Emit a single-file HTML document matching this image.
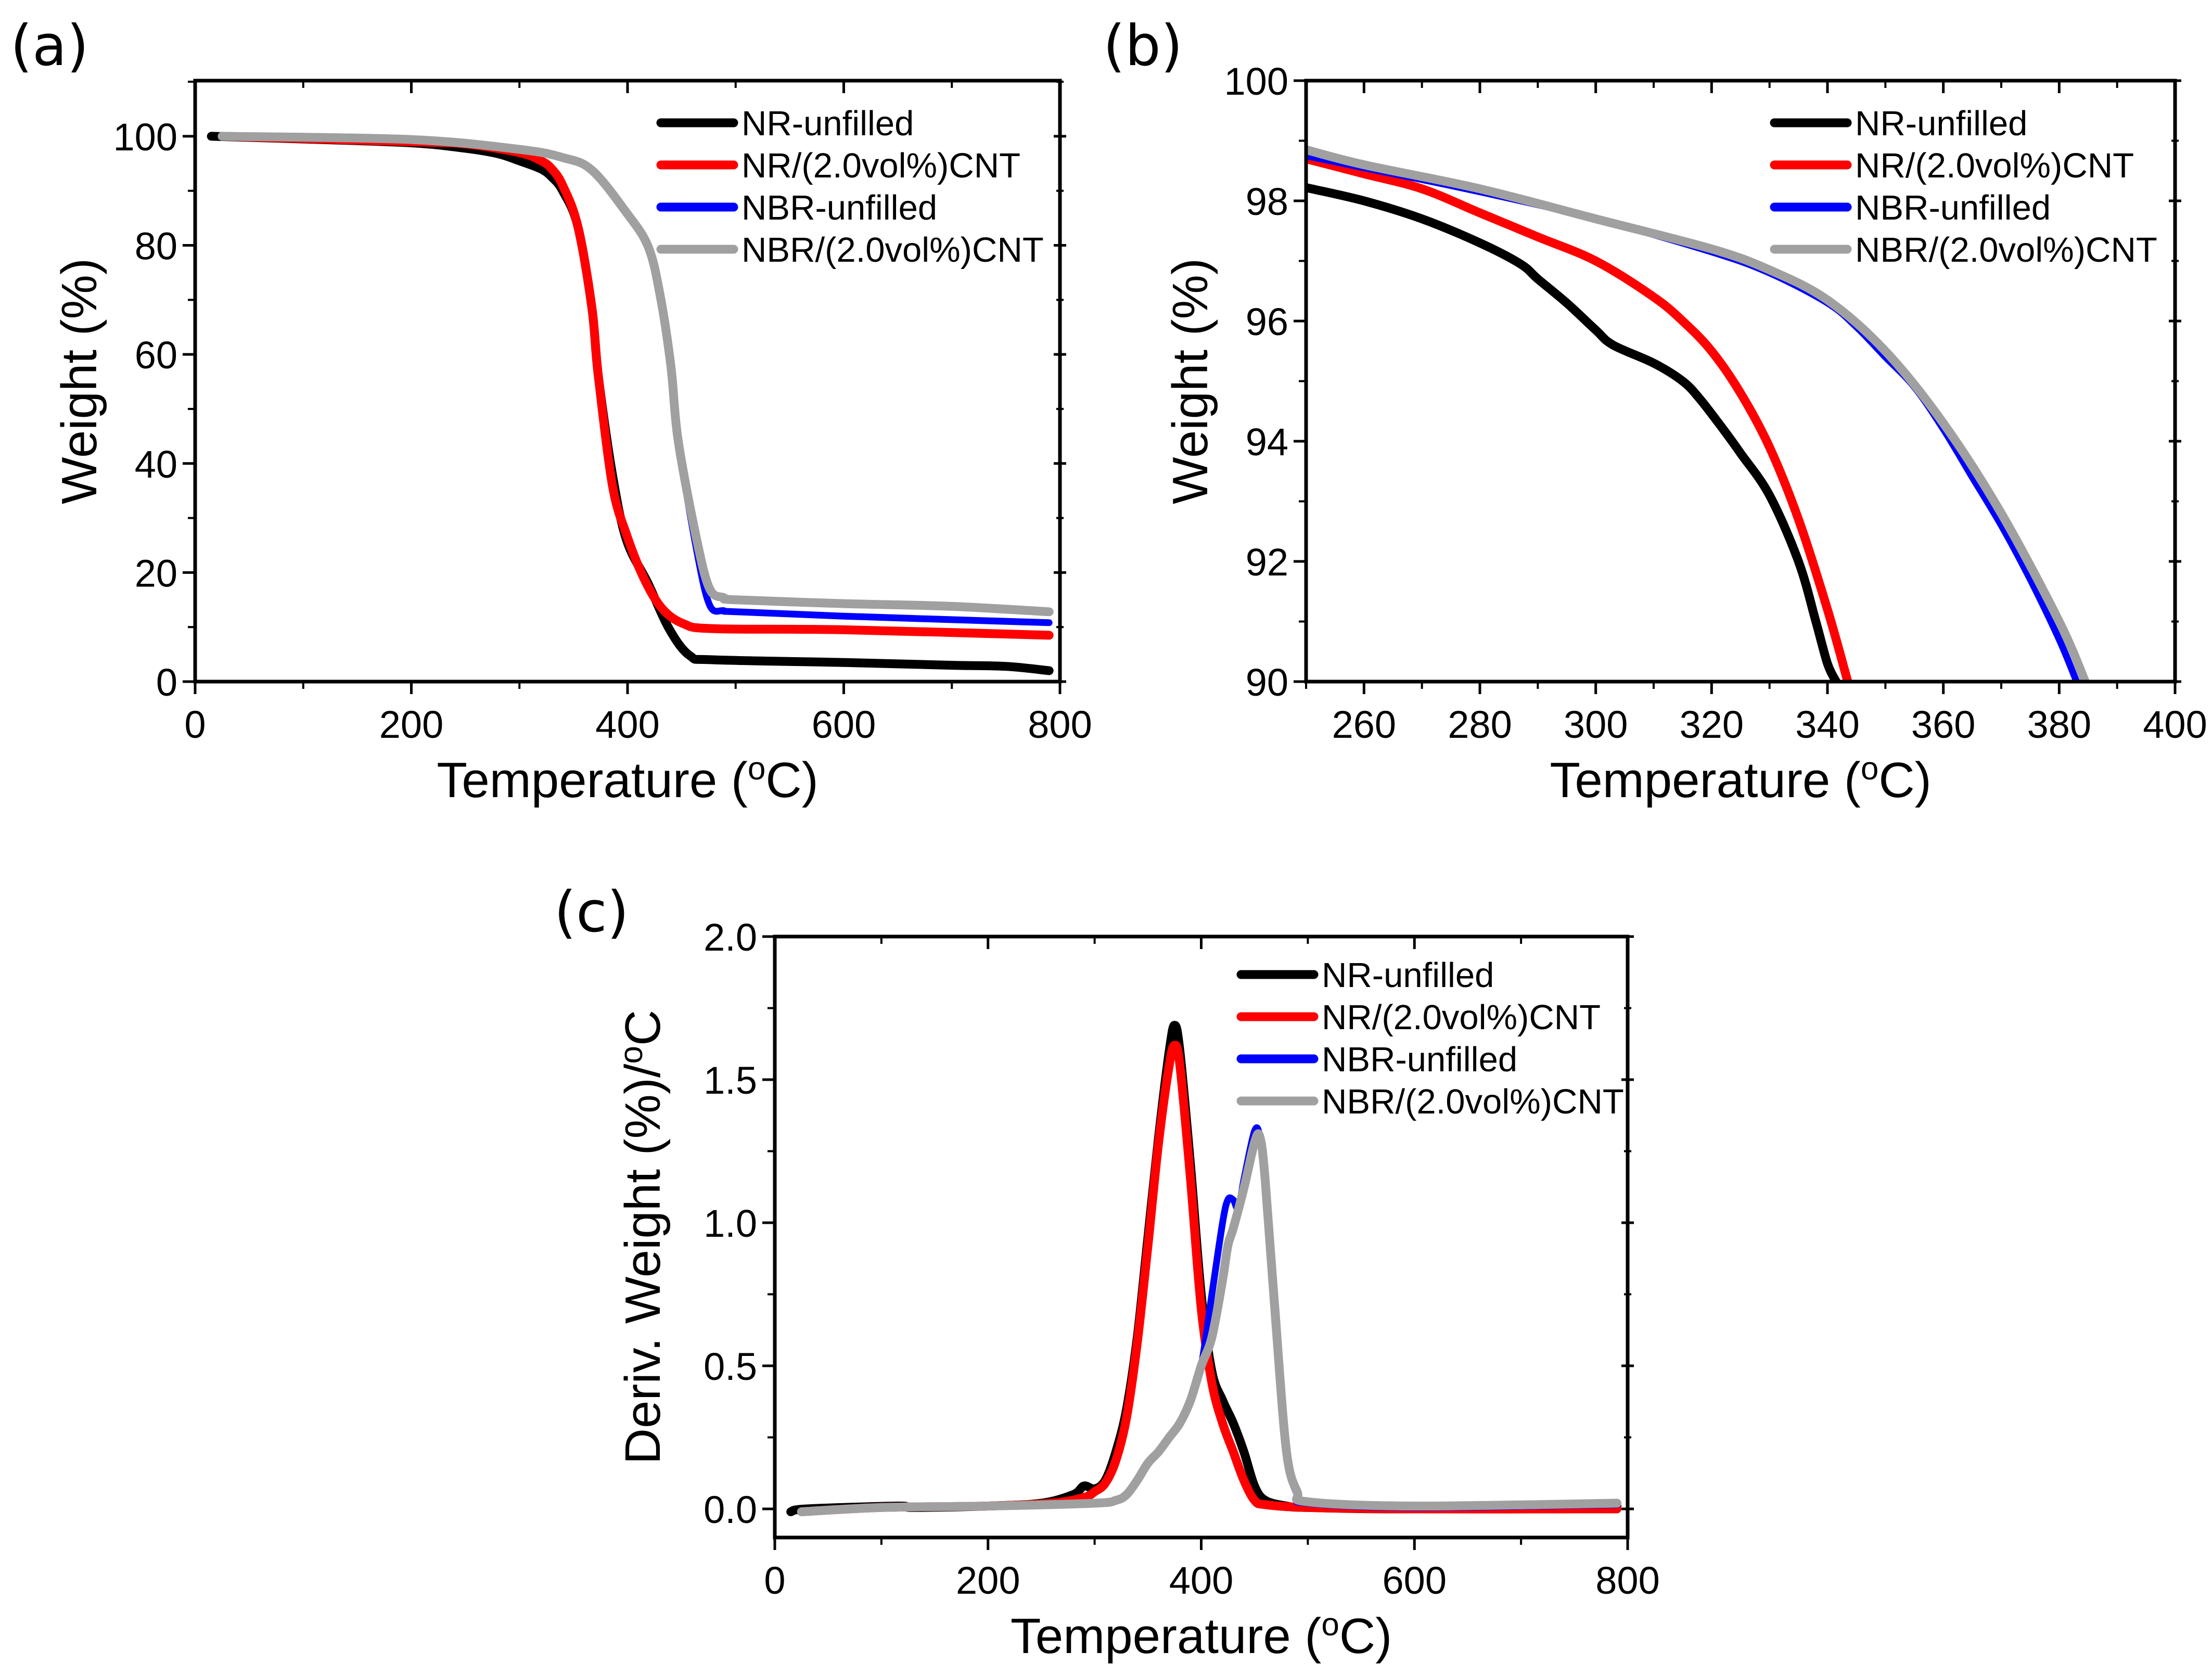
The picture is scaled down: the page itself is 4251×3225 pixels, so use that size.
<!DOCTYPE html>
<html><head><meta charset="utf-8"><style>
html,body{margin:0;padding:0;background:#fff;}
svg{display:block;}
</style></head><body>
<svg id="fig" width="4251" height="3225" viewBox="0 0 4251 3225" xmlns="http://www.w3.org/2000/svg"></svg>
<script>
// ---------- Panel (a) data ----------
const aLabels = ["NR-unfilled","NR/(2.0vol%)CNT","NBR-unfilled","NBR/(2.0vol%)CNT"];
const aNR_T = [15,100,200,250,280,300,320,330,340,354,367,373,386,399,419,439,458,480,600,700,750,790];
const aNR_W = [100,99.5,98.8,97.8,96.8,95.5,94,92.5,90,83.5,68.6,56,38,26,18,9.5,4.7,4,3.5,3,2.8,2];
const aNRC_T = [25,200,250,300,320,330,340,354,367,373,386,399,415,432,452,480,600,790];
const aNRC_W = [100,99,98.6,97,95.5,94,91,83.5,68.6,56,36,27,19,13.4,10.6,9.7,9.5,8.5];
const aNBR_T = [25,200,300,340,367,399,419,430,440,447,464,476,489,500,600,790];
const aNBR_W = [100,99.3,97.5,96,93.7,85.8,79.6,71,58,44,24,14,13,12.8,12,10.8];
const aNBRC_T = [25,200,300,340,367,399,419,430,440,447,464,476,489,500,600,700,790];
const aNBRC_W = [100,99.4,97.6,96.1,93.8,86,79.8,71,58,44,26,17,15.4,15,14.3,13.8,12.8];
const aXTicks = [0,200,400,600,800];
const aYTicks = [0,20,40,60,80,100];
// ---------- Panel (b) data ----------
const bNR_T = [250,260,270,280,287,290,295,300,303,310,315,318,322,325,330,335,338,340,341.5];
const bNR_W = [98.22,98.0,97.7,97.3,96.95,96.7,96.3,95.85,95.6,95.3,95.0,94.7,94.2,93.8,93.1,92.0,91.0,90.3,90];
const bNRC_T = [250,260,270,280,290,300,310,315,320,325,330,335,340,343.5];
const bNRC_W = [98.7,98.45,98.2,97.8,97.4,97.0,96.4,96.0,95.5,94.8,93.9,92.7,91.2,90];
const bNBR_T = [250,260,280,300,320,330,340,345,350,355,360,365,370,375,380,383];
const bNBR_W = [98.75,98.55,98.15,97.7,97.15,96.8,96.3,95.9,95.4,94.9,94.2,93.4,92.6,91.7,90.7,90];
const bNBRC_T = [250,260,280,300,320,330,340,350,360,370,380,384.5];
const bNBRC_W = [98.85,98.6,98.2,97.7,97.2,96.85,96.35,95.5,94.3,92.8,91.0,90];
const bXTicks = [260,280,300,320,340,360,380,400];
const bYTicks = [90,92,94,96,98,100];
// ---------- Panel (c) data ----------
const cNR_T = [15,30,115,130,200,250,280,290,300,310,320,330,340,350,360,370,375,380,390,400,410,420,430,440,450,460,480,500,600,790];
const cNR_D = [-0.01,0,0.01,0.005,0.01,0.02,0.05,0.08,0.07,0.1,0.2,0.35,0.6,0.95,1.3,1.6,1.69,1.6,1.2,0.75,0.48,0.38,0.3,0.2,0.08,0.03,0.01,0.005,0,0.01];
const cNRC_T = [25,100,200,260,290,300,310,320,330,340,350,360,370,375,380,390,400,410,420,430,440,450,460,500,600,790];
const cNRC_D = [-0.01,0.005,0.01,0.02,0.04,0.06,0.09,0.17,0.32,0.58,0.92,1.28,1.55,1.62,1.55,1.15,0.7,0.44,0.3,0.2,0.1,0.03,0.015,0.005,0,0];
const cNBR_T = [25,100,200,300,320,330,340,350,360,370,380,390,400,410,420,425,430,435,440,450,455,460,470,480,490,500,600,790];
const cNBR_D = [-0.01,0.005,0.01,0.02,0.03,0.05,0.1,0.16,0.2,0.25,0.3,0.38,0.5,0.75,1.0,1.08,1.08,1.05,1.15,1.32,1.3,1.15,0.7,0.2,0.05,0.02,0.005,0.015];
const cNBRC_T = [25,100,200,300,320,330,340,350,360,370,380,390,400,410,420,425,430,440,450,455,460,470,480,490,500,600,790];
const cNBRC_D = [-0.01,0.005,0.01,0.02,0.03,0.05,0.1,0.16,0.2,0.25,0.3,0.38,0.5,0.6,0.8,0.92,0.98,1.12,1.28,1.3,1.15,0.65,0.2,0.06,0.025,0.01,0.02];
const cXTicks = [0,200,400,600,800];
const cYTicks = [0,0.5,1.0,1.5,2.0];
const cYTickLabels = ["0.0","0.5","1.0","1.5","2.0"];

const NS = "http://www.w3.org/2000/svg";
const svg = document.getElementById("fig");
function mk(tag, attrs, parent){
  const e = document.createElementNS(NS, tag);
  for (const k in attrs) e.setAttribute(k, attrs[k]);
  (parent||svg).appendChild(e); return e;
}
const COLORS = ["#000000","#ff0000","#0000ff","#a0a0a0"];
function smoothPath(pts){
  let d = "M" + pts[0][0].toFixed(1) + "," + pts[0][1].toFixed(1);
  for (let i = 0; i < pts.length - 1; i++){
    const p0 = pts[Math.max(i-1,0)], p1 = pts[i], p2 = pts[i+1], p3 = pts[Math.min(i+2,pts.length-1)];
    const c1x = p1[0] + (p2[0]-p0[0])/6, c1y = p1[1] + (p2[1]-p0[1])/6;
    const c2x = p2[0] - (p3[0]-p1[0])/6, c2y = p2[1] - (p3[1]-p1[1])/6;
    d += "C" + c1x.toFixed(1)+","+c1y.toFixed(1)+" "+c2x.toFixed(1)+","+c2y.toFixed(1)+" "+p2[0].toFixed(1)+","+p2[1].toFixed(1);
  }
  return d;
}

function panel(o){
  const g = mk("g", {});
  
  
  const sx = v => o.x0 + (v - o.xmin)/(o.xmax - o.xmin)*(o.x1 - o.x0);
  const sy = v => o.y0 - (v - o.ymin)/(o.ymax - o.ymin)*(o.y0 - o.y1);
  const cid = "clip-" + o.name;
  const cp = mk("clipPath", {id: cid}, g);
  mk("rect", {x:o.x0, y:o.y1, width:o.x1-o.x0, height:o.y0-o.y1}, cp);
  const sg = mk("g", {"clip-path":"url(#"+cid+")"}, g);
  o.series.forEach((s, i) => {
    const pts = s.x.map((xv, j) => [sx(xv), sy(s.y[j])]);
    const p = mk("path", {d:smoothPath(pts), fill:"none", stroke:COLORS[i], "stroke-width": i===2 ? 13 : 17, "stroke-linejoin":"round", "stroke-linecap":"round"}, sg);
    
    
  });
  const fr = mk("rect", {x:o.x0, y:o.y1, width:o.x1-o.x0, height:o.y0-o.y1, fill:"none", stroke:"#000", "stroke-width":7}, g);
  
  
  const xg = mk("g", {}, g);
  
  
  o.xMajor.forEach(v => {
    const X = sx(v);
    mk("line", {x1:X, y1:o.y0, x2:X, y2:o.y0+24, stroke:"#000", "stroke-width":5}, xg);
    mk("line", {x1:X, y1:o.y1, x2:X, y2:o.y1+24, stroke:"#000", "stroke-width":5}, xg);
    const t = mk("text", {x:X, y:o.y0+108, "text-anchor":"middle", "font-family":"Liberation Sans, sans-serif", "font-size":74}, xg);
    t.textContent = String(v);
    
    
  });
  o.xMinor.forEach(v => {
    const X = sx(v);
    mk("line", {x1:X, y1:o.y0, x2:X, y2:o.y0+14, stroke:"#000", "stroke-width":4}, xg);
    mk("line", {x1:X, y1:o.y1, x2:X, y2:o.y1+14, stroke:"#000", "stroke-width":4}, xg);
  });
  const yg = mk("g", {}, g);
  
  
  o.yMajor.forEach((v, k) => {
    const Y = sy(v);
    mk("line", {x1:o.x0-24, y1:Y, x2:o.x0, y2:Y, stroke:"#000", "stroke-width":5}, yg);
    mk("line", {x1:o.x1-12, y1:Y, x2:o.x1+12, y2:Y, stroke:"#000", "stroke-width":5}, yg);
    const t = mk("text", {x:o.x0-34, y:Y+27, "text-anchor":"end", "font-family":"Liberation Sans, sans-serif", "font-size":74}, yg);
    t.textContent = o.yLabels ? o.yLabels[k] : String(v);
    
    
  });
  o.yMinor.forEach(v => {
    const Y = sy(v);
    mk("line", {x1:o.x0-14, y1:Y, x2:o.x0, y2:Y, stroke:"#000", "stroke-width":4}, yg);
    mk("line", {x1:o.x1-7, y1:Y, x2:o.x1+7, y2:Y, stroke:"#000", "stroke-width":4}, yg);
  });
  const xt = mk("text", {x:(o.x0+o.x1)/2, y:o.y0+222, "text-anchor":"middle", "font-family":"Liberation Sans, sans-serif", "font-size":96}, g);
  xt.innerHTML = 'Temperature (<tspan baseline-shift="super" font-size="62">o</tspan>C)';
  
  
  const yt = mk("text", {x:0, y:0, "text-anchor":"middle", "font-family":"Liberation Sans, sans-serif", "font-size":96, transform:"translate("+o.ytx+","+((o.y0+o.y1)/2)+") rotate(-90)"}, g);
  yt.innerHTML = o.ytitle;
  
  
  const pl = mk("text", {x:o.plx, y:o.ply, "font-family":"DejaVu Sans, sans-serif", "font-size":108}, g);
  pl.textContent = o.plabel;
  
  
  const lg = mk("g", {}, g);
  
  
  aLabels.forEach((lab, i) => {
    const Y = o.legY + i*81;
    const e = mk("g", {}, lg);
    
    
    mk("line", {x1:o.legX, y1:Y, x2:o.legX+140, y2:Y, stroke:COLORS[i], "stroke-width":17, "stroke-linecap":"round"}, e);
    const t = mk("text", {x:o.legX+155, y:Y+24, "font-family":"Liberation Sans, sans-serif", "font-size":67}, e);
    t.textContent = lab;
  });
}
function range(a, b, s){ const r=[]; for(let v=a; v<=b+1e-9; v+=s) r.push(+v.toFixed(4)); return r; }

panel({name:"panel-a", x0:375, x1:2037, y0:1310, y1:155, xmin:0, xmax:800, ymin:0, ymax:110.2,
  series:[{key:"nr-unfilled",x:aNR_T,y:aNR_W},{key:"nr-cnt",x:aNRC_T,y:aNRC_W},{key:"nbr-unfilled",x:aNBR_T,y:aNBR_W},{key:"nbr-cnt",x:aNBRC_T,y:aNBRC_W}],
  xMajor:aXTicks, xMinor:range(100,700,200), yMajor:aYTicks, yMinor:range(10,110,20),
  ytitle:"Weight (%)", ytx:185, plabel:"(a)", plx:20, ply:125, legX:1270, legY:236});

panel({name:"panel-b", x0:2510, x1:4180, y0:1310, y1:155, xmin:250, xmax:400, ymin:90, ymax:100,
  series:[{key:"nr-unfilled",x:bNR_T,y:bNR_W},{key:"nr-cnt",x:bNRC_T,y:bNRC_W},{key:"nbr-unfilled",x:bNBR_T,y:bNBR_W},{key:"nbr-cnt",x:bNBRC_T,y:bNBRC_W}],
  xMajor:bXTicks, xMinor:range(250,390,20), yMajor:bYTicks, yMinor:range(91,99,2),
  ytitle:"Weight (%)", ytx:2320, plabel:"(b)", plx:2120, ply:125, legX:3410, legY:236});

panel({name:"panel-c", x0:1489, x1:3128, y0:2955, y1:1800, xmin:0, xmax:800, ymin:-0.1, ymax:2.0,
  series:[{key:"nr-unfilled",x:cNR_T,y:cNR_D},{key:"nr-cnt",x:cNRC_T,y:cNRC_D},{key:"nbr-unfilled",x:cNBR_T,y:cNBR_D},{key:"nbr-cnt",x:cNBRC_T,y:cNBRC_D}],
  xMajor:cXTicks, xMinor:range(100,700,200), yMajor:cYTicks, yLabels:cYTickLabels, yMinor:range(0.25,1.75,0.5),
  ytitle:'Deriv. Weight (%)/<tspan baseline-shift="super" font-size="62">o</tspan>C', ytx:1268, plabel:"(c)", plx:1065, ply:1790, legX:2385, legY:1873});
</script>
</body></html>
